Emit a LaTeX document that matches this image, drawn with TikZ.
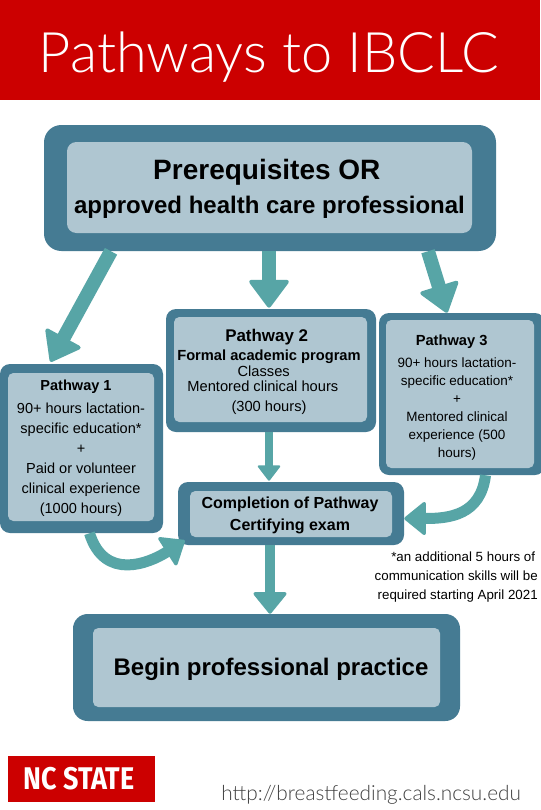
\documentclass[tikz,border=0pt]{standalone}
\usepackage{fontspec}
\setmainfont{Liberation Sans}
\newfontfamily\thinfont{Lato Light}
\newfontfamily\logofont{Fira Sans}[UprightFont=*,BoldFont=* Bold]
\usetikzlibrary{arrows.meta,calc}
\definecolor{ncred}{HTML}{CC0000}
\definecolor{frameblue}{HTML}{457B93}
\definecolor{paleblue}{HTML}{AFC6D1}
\definecolor{teal1}{HTML}{57A5A6}
\def\px{0.75pt}
\newcommand\fs[2]{\fontsize{#1}{#2}\selectfont}
\tikzset{
 x=0.75pt,y=-0.75pt,
 outerbox/.style 2 args={fill=frameblue,rounded corners=7.5pt,inner sep=0pt,minimum width=#1*\px,minimum height=#2*\px},
 innerbox/.style 2 args={fill=paleblue,rounded corners=4pt,inner sep=0pt,minimum width=#1*\px,minimum height=#2*\px},
 txt/.style={align=center,inner sep=0pt,text=black},
 conn/.style={draw=teal1,line width=#1*\px},
 conn/.default=14,
 bigtip/.style={-{Triangle[length=22pt,width=32pt,line width=3pt,round]}},
 midtip/.style={-{Triangle[length=17pt,width=27pt,line width=2.5pt,round]}},
 smalltip/.style={-{Triangle[length=12pt,width=18pt,line width=1.5pt,round]}},
}
\begin{document}
\begin{tikzpicture}
\useasboundingbox (0,0) rectangle (540,810);
\fill[white] (0,0) rectangle (540,810);
\node[fill=ncred,inner sep=0pt,minimum width=540*\px,minimum height=100*\px] (header) at (270,50) {};
\node[text=white,inner sep=0pt] (title) at (269,57) {\thinfont\fs{41.9}{50}Pathways to IBCLC};

\node[outerbox={452}{126},rounded corners=13pt] (top) at (270,188) {};
\node[innerbox={405}{91},rounded corners=7pt] (topin) at (269.5,187.5) {};
\node[txt,font=\bfseries\fs{18}{27}] (toptext) at (269.5,189) {\hspace*{-4pt}\fs{21}{27}Prerequisites OR\\[-1.5pt]approved health care professional};

\node[outerbox={163}{169}] (p1) at (81.5,448.5) {};
\node[innerbox={146}{148}] (p1in) at (81,447) {};
\node[txt,font=\fs{10.9}{15}] (p1text) at (81,448) {\hspace*{-7.5pt}\textbf{Pathway 1}\\[2pt]90+ hours lactation-\\specific education*\\+\\Paid or volunteer\\clinical experience\\(1000 hours)};

\node[outerbox={210}{123}] (p2) at (271,370.5) {};
\node[innerbox={193}{105}] (p2in) at (270.5,369.5) {};
\node[txt,font=\fs{11}{15}] (p2text) at (269,371.5) {\hspace*{-3.5pt}\fs{12.7}{15}\textbf{Pathway 2}\\[-0.75pt]\textbf{Formal academic program}\\[-3pt]\hspace*{-8pt}Classes\\[-3.7pt]\hspace*{-9.2pt}Mentored clinical hours\\(300 hours)};

\node[outerbox={166}{162}] (p3) at (462,394) {};
\node[innerbox={148}{148}] (p3in) at (460,394) {};
\node[txt,font=\fs{10.1}{13.5}] (p3text) at (457,397.5) {\hspace*{-8pt}\fs{11}{13.5}\textbf{Pathway 3}\\[3pt]90+ hours lactation-\\specific education*\\+\\Mentored clinical\\experience (500\\hours)};

\node[outerbox={226}{63}] (comp) at (291,513.5) {};
\node[innerbox={202}{46}] (compin) at (291,514) {};
\node[txt,font=\bfseries\fs{12}{16.5}] (comptext) at (290,515) {Completion of Pathway\\Certifying exam};

\node[outerbox={387}{107},rounded corners=11pt] (begin) at (266.5,667.5) {};
\node[innerbox={347}{79}] (beginin) at (266.5,667.5) {};
\node[txt] (begintext) at (271,669) {\bfseries\fs{18}{20}Begin professional practice};

\node[inner sep=0pt,align=right,anchor=east,font=\fs{10}{14}] (note) at (538,577) {*an additional 5 hours of\hspace*{2pt}\\communication skills will be\hspace*{3pt}\\required starting April 2021};

\node[fill=ncred,inner sep=0pt,minimum width=147*\px,minimum height=46*\px] (logo) at (81.5,779) {};
\node[text=white,inner sep=0pt] (logotext) at (79,779) {\logofont\bfseries\fs{23.5}{26}\scalebox{0.86}[1]{NC STATE}};
\node[inner sep=0pt,anchor=west,text=black!75] (url) at (221,795) {\thinfont\fs{15.6}{20}http://breastfeeding.cals.ncsu.edu};

\draw[conn,bigtip] ($(top.south)+(-159,0)$) -- ($(p1.north)+(-31,-2)$);
\draw[conn,bigtip] ($(top.south)+(-1,0)$) -- ($(p2.north)+(-2,-1)$);
\draw[conn,bigtip] ($(top.south)+(158,0)$) -- ($(p3.north)+(-15,0)$);
\draw[conn=8,smalltip] ($(p2.south)+(-2,0)$) -- ($(comp.north)+(-22,-1)$);
\draw[conn=10,midtip] ($(comp.south)+(-21,0)$) -- ($(begin.north)+(3.5,0)$);
\draw[conn=11,midtip] ($(p1.south)+(8,0)$) .. controls +(15,48) and +(-36,23) .. ($(comp.west)+(7,27)$);
\draw[conn=11,midtip] ($(p3.south)+(23.5,0)$) .. controls +(-5,40) and +(45,0) .. ($(comp.east)+(0,5)$);
\end{tikzpicture}
\end{document}
